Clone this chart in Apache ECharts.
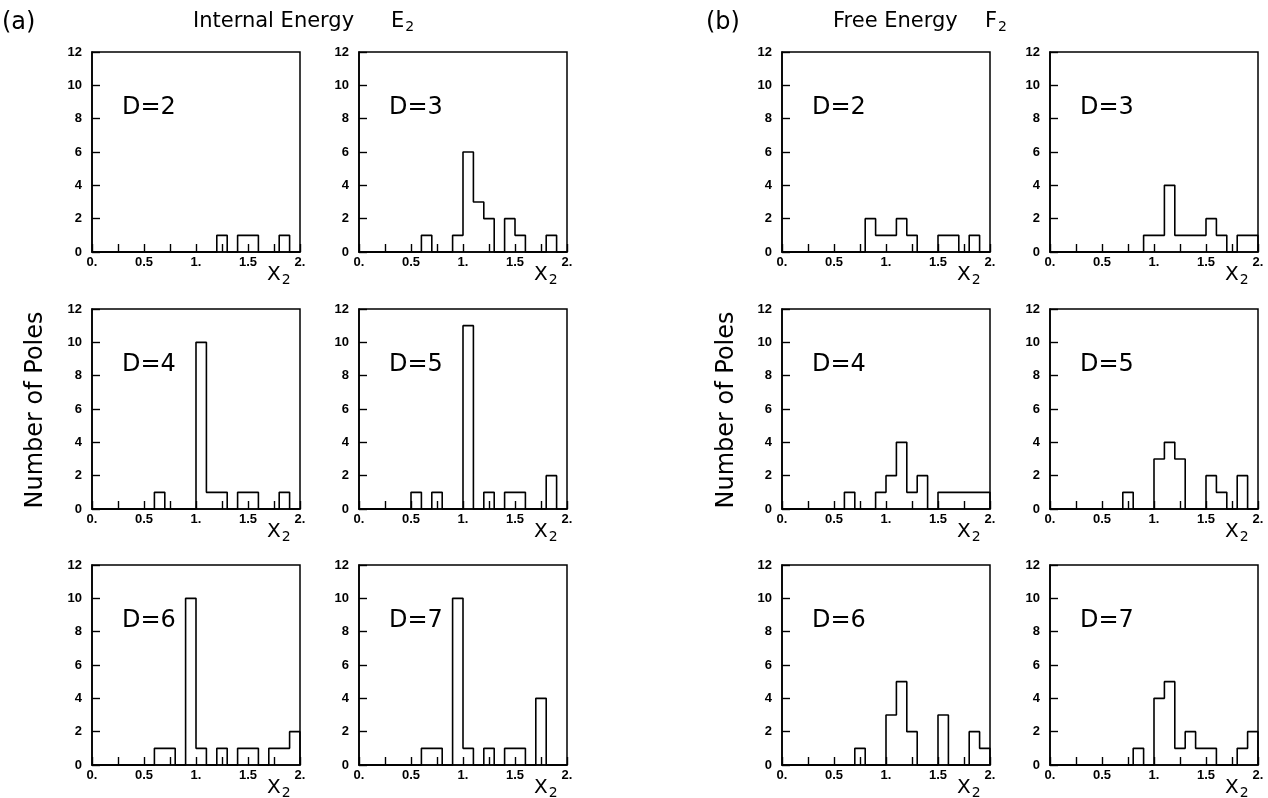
<!DOCTYPE html>
<html>
<head>
<meta charset="utf-8">
<script src="https://cdn.jsdelivr.net/npm/echarts@6/dist/echarts.min.js"></script>
<style>
  html, body { margin: 0; padding: 0; background: #fff; }
  #chart { width: 1268px; height: 798px; }
</style>
</head>
<body>
<div id="chart"></div>
<script>
// bin lower edges (width 0.1) of the x2 histograms
var binStarts = [0.0, 0.1, 0.2, 0.3, 0.4, 0.5, 0.6, 0.7, 0.8, 0.9,
                 1.0, 1.1, 1.2, 1.3, 1.4, 1.5, 1.6, 1.7, 1.8, 1.9];
var binEnd = 2.0;

var xTickValues = [0, 0.5, 1, 1.5, 2];
var xTickLabels = ['0.', '0.5', '1.', '1.5', '2.'];
var yTickLabels = ['0', '2', '4', '6', '8', '10', '12'];

// (a) internal energy E2
var intD2 = [0,0,0,0,0,0,0,0,0,0,0,0,1,0,1,1,0,0,1,0];
var intD3 = [0,0,0,0,0,0,1,0,0,1,6,3,2,0,2,1,0,0,1,0];
var intD4 = [0,0,0,0,0,0,1,0,0,0,10,1,1,0,1,1,0,0,1,0];
var intD5 = [0,0,0,0,0,1,0,1,0,0,11,0,1,0,1,1,0,0,2,0];
var intD6 = [0,0,0,0,0,0,1,1,0,10,1,0,1,0,1,1,0,1,1,2];
var intD7 = [0,0,0,0,0,0,1,1,0,10,1,0,1,0,1,1,0,4,0,0];

// (b) free energy F2
var freeD2 = [0,0,0,0,0,0,0,0,2,1,1,2,1,0,0,1,1,0,1,0];
var freeD3 = [0,0,0,0,0,0,0,0,0,1,1,4,1,1,1,2,1,0,1,1];
var freeD4 = [0,0,0,0,0,0,1,0,0,1,2,4,1,2,0,1,1,1,1,1];
var freeD5 = [0,0,0,0,0,0,0,1,0,0,3,4,3,0,0,2,1,0,2,0];
var freeD6 = [0,0,0,0,0,0,0,1,0,0,3,5,2,0,0,3,0,0,2,1];
var freeD7 = [0,0,0,0,0,0,0,0,1,0,4,5,1,2,1,1,0,0,1,2];

var panels = [
    { name: 'D=2', counts: intD2,  col: 0, row: 0 },
    { name: 'D=3', counts: intD3,  col: 1, row: 0 },
    { name: 'D=4', counts: intD4,  col: 0, row: 1 },
    { name: 'D=5', counts: intD5,  col: 1, row: 1 },
    { name: 'D=6', counts: intD6,  col: 0, row: 2 },
    { name: 'D=7', counts: intD7,  col: 1, row: 2 },
    { name: 'D=2', counts: freeD2, col: 2, row: 0 },
    { name: 'D=3', counts: freeD3, col: 3, row: 0 },
    { name: 'D=4', counts: freeD4, col: 2, row: 1 },
    { name: 'D=5', counts: freeD5, col: 3, row: 1 },
    { name: 'D=6', counts: freeD6, col: 2, row: 2 },
    { name: 'D=7', counts: freeD7, col: 3, row: 2 }
];

// layout
var colLeft = [92, 359, 782, 1050];
var rowTop = [52, 309, 565];
var plotW = 208, plotH = 200;
var tickFamily = '"Liberation Sans", Arial, sans-serif';
var textFamily = '"DejaVu Sans", sans-serif';

function stepData(counts)
{
    var d = [[0, 0]];
    for (var i = 0; i < binStarts.length; i++)
        d.push([binStarts[i], counts[i]]);
    d.push([binEnd, counts[counts.length - 1]]);
    d.push([binEnd, 0]);
    return d;
}

function xLabel(v)
{
    for (var i = 0; i < xTickValues.length; i++)
        if (Math.abs(xTickValues[i] - v) < 1e-6) return xTickLabels[i];
    return '';
}

function subText(x, y, main, sub, size)
{
    return {
        type: 'text', left: x, top: y, silent: true,
        style: {
            text: '{a|' + main + '}{b|' + sub + '}',
            rich: {
                a: { fontSize: size, fontFamily: textFamily, color: '#000' },
                b: { fontSize: Math.round(size * 0.68), fontFamily: textFamily, color: '#000',
                     padding: [Math.round(size * 0.55), 0, 0, 1] }
            }
        }
    };
}

var grids = [], xAxes = [], yAxes = [], series = [], graphics = [];

panels.forEach(function (p, k)
{
    var left = colLeft[p.col], top = rowTop[p.row];
    grids.push({
        left: left, top: top, width: plotW, height: plotH,
        show: true, borderColor: '#000', borderWidth: 1.5, backgroundColor: 'transparent'
    });
    xAxes.push({
        type: 'value', gridIndex: k, min: 0, max: 2, interval: 0.25,
        axisLine: { show: true, onZero: false, lineStyle: { color: '#000', width: 1.6 } },
        axisTick: { show: true, inside: true, length: 8, lineStyle: { color: '#000', width: 1.4 } },
        splitLine: { show: false },
        axisLabel: {
            show: true, margin: 4, color: '#000', fontWeight: 'bold', fontSize: 13,
            fontFamily: tickFamily,
            showMinLabel: true, showMaxLabel: true, hideOverlap: false,
            formatter: xLabel
        }
    });
    yAxes.push({
        type: 'value', gridIndex: k, min: 0, max: 12, interval: 2,
        axisLine: { show: true, lineStyle: { color: '#000', width: 1.6 } },
        axisTick: { show: true, inside: true, length: 8, lineStyle: { color: '#000', width: 1.4 } },
        splitLine: { show: false },
        axisLabel: {
            show: true, margin: 10, color: '#000', fontWeight: 'bold', fontSize: 13,
            fontFamily: tickFamily,
            showMinLabel: true, showMaxLabel: true,
            formatter: function (v) { return yTickLabels[Math.round(v / 2)]; }
        }
    });
    series.push({
        type: 'line', xAxisIndex: k, yAxisIndex: k, step: 'end',
        showSymbol: false, symbol: 'none', clip: false, silent: true,
        lineStyle: { color: '#000', width: 1.6 },
        data: stepData(p.counts)
    });
    // panel label
    graphics.push({
        type: 'text', left: left + 30, top: top + 44, silent: true,
        style: { text: p.name, font: '24px ' + textFamily, fill: '#000' }
    });
    // x2 axis title
    graphics.push(subText(left + 175, top + plotH + 13, 'X', '2', 20));
});

// headings
graphics.push(
    { type: 'text', left: 2, top: 11, style: { text: '(a)', font: '24px ' + textFamily, fill: '#000' } },
    { type: 'text', left: 193, top: 11, style: { text: 'Internal Energy', font: '21px ' + textFamily, fill: '#000' } },
    subText(391, 11, 'E', '2', 21),
    { type: 'text', left: 706, top: 11, style: { text: '(b)', font: '24px ' + textFamily, fill: '#000' } },
    { type: 'text', left: 833, top: 11, style: { text: 'Free Energy', font: '21px ' + textFamily, fill: '#000' } },
    subText(985, 11, 'F', '2', 21),
    { type: 'text', x: 36, y: 410, rotation: Math.PI / 2, style: {
        text: 'Number of Poles', font: '24px ' + textFamily, fill: '#000', align: 'center', verticalAlign: 'middle' } },
    { type: 'text', x: 727, y: 410, rotation: Math.PI / 2, style: {
        text: 'Number of Poles', font: '24px ' + textFamily, fill: '#000', align: 'center', verticalAlign: 'middle' } }
);

var chart = echarts.init(document.getElementById('chart'), null, { renderer: 'canvas' });
chart.setOption({
    animation: false,
    backgroundColor: '#fff',
    grid: grids,
    xAxis: xAxes,
    yAxis: yAxes,
    series: series,
    graphic: graphics
});
</script>
</body>
</html>
